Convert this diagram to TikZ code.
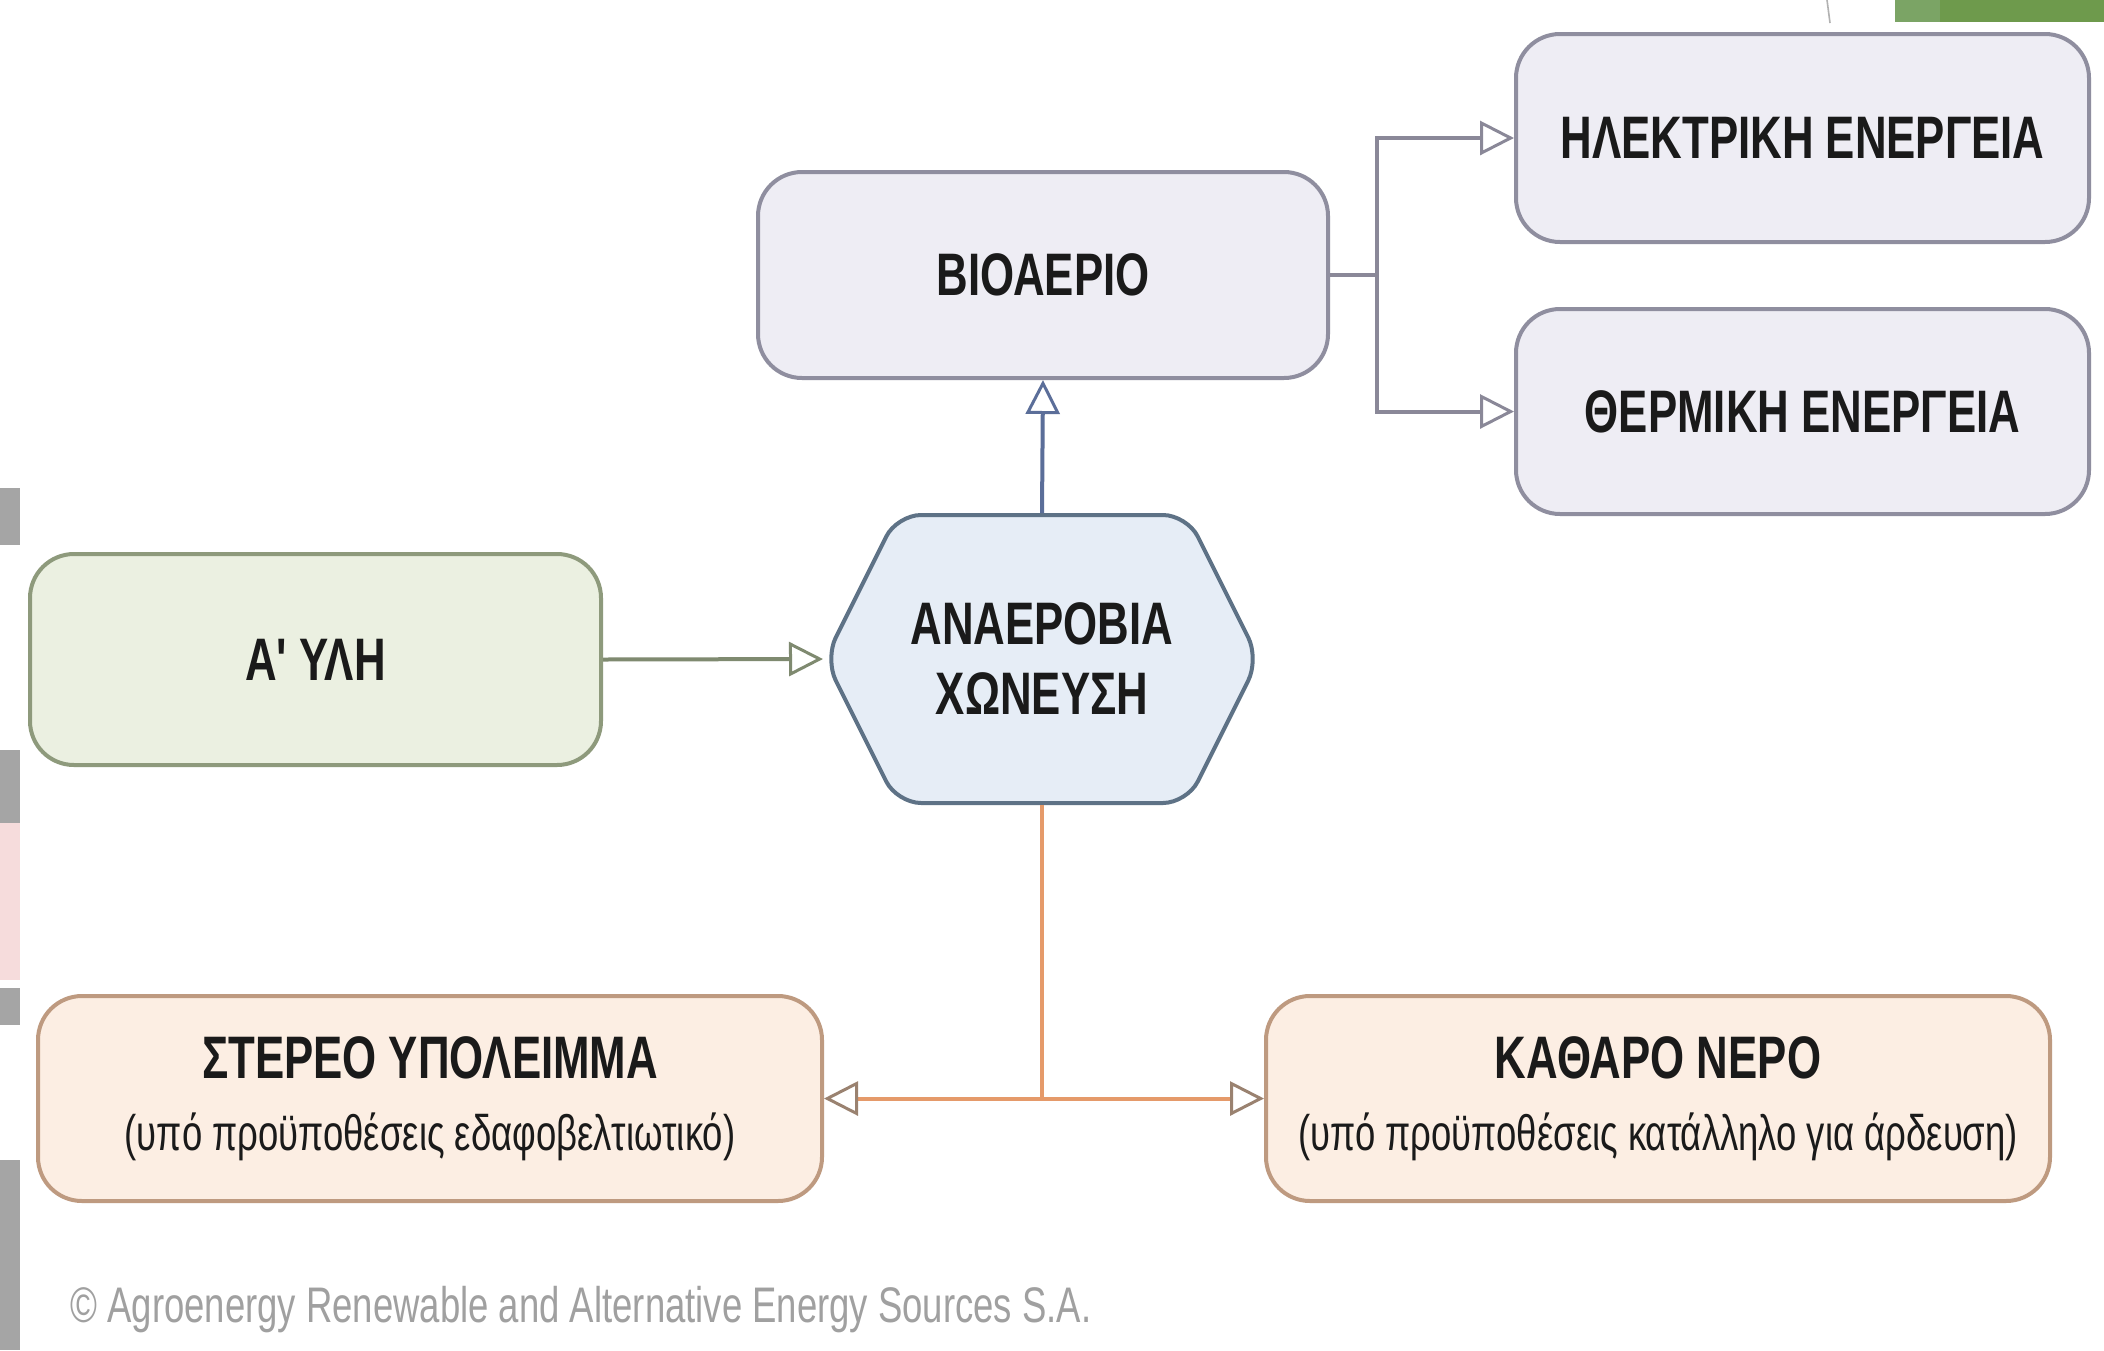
\documentclass[tikz,border=0pt]{standalone}
\usepackage{fontspec}
\setmainfont{Liberation Sans}
\newfontfamily\cond[FakeStretch=0.73]{Liberation Sans}
\usetikzlibrary{arrows.meta}
\definecolor{grayf}{HTML}{EEEDF4}
\definecolor{grayd}{HTML}{8F8E9F}
\definecolor{greenf}{HTML}{EBF0E1}
\definecolor{greend}{HTML}{8E9A7C}
\definecolor{hexf}{HTML}{E6EDF6}
\definecolor{hexd}{HTML}{5E7286}
\definecolor{orf}{HTML}{FCEEE3}
\definecolor{ord}{HTML}{BE9A80}
\definecolor{orline}{HTML}{E59A6A}
\definecolor{orhead}{HTML}{9A8270}
\definecolor{blueline}{HTML}{5B6E99}
\definecolor{greyline}{HTML}{8A8898}
\definecolor{oliveline}{HTML}{7F8A70}
\definecolor{txt}{HTML}{1A1A1A}
\definecolor{copyc}{HTML}{A0A0A0}
\definecolor{edgegray}{HTML}{A5A5A5}
\definecolor{edgepink}{HTML}{F6DCDC}
\definecolor{slidegreen}{HTML}{6E9A4C}
\definecolor{slidegreenl}{HTML}{7BA465}
\tikzset{
  box/.style={rounded corners=22pt, line width=2pt, text=txt, align=center, inner sep=0pt,
    font=\cond\bfseries\fontsize{30}{35}\selectfont},
  graybox/.style={box, draw=grayd, fill=grayf},
  greenbox/.style={box, draw=greend, fill=greenf},
  orbox/.style={box, draw=ord, fill=orf},
  conn/.style={line width=2pt},
  tip/.style={-{Triangle[length=17pt,width=17pt,fill=white,line width=1.5pt,#1]}},
}
\begin{document}
\begin{tikzpicture}[x=0.5pt,y=-0.5pt]
\useasboundingbox (0,0) rectangle (2104,1350);
\fill[white] (0,0) rectangle (2104,1350);
% slide remnants
\fill[edgegray] (0,488) rectangle (20,545);
\fill[edgegray] (0,750) rectangle (20,823);
\fill[edgepink] (0,823) rectangle (20,980);
\fill[edgegray] (0,988) rectangle (20,1025);
\fill[edgegray] (0,1160) rectangle (20,1350);
\fill[slidegreenl] (1895,0) rectangle (1940,22);
\fill[slidegreen] (1940,0) rectangle (2104,22);
\draw[gray!60, line width=0.8pt] (1827,0) -- (1830,23);

% boxes
\node[graybox, minimum width=285pt, minimum height=103pt] (bio) at (1043,275) {ΒΙΟΑΕΡΙΟ};
\node[graybox, minimum width=286.5pt, minimum height=104pt] (elec) at (1802.5,138) {ΗΛΕΚΤΡΙΚΗ ΕΝΕΡΓΕΙΑ};
\node[graybox, minimum width=286.5pt, minimum height=102.5pt] (therm) at (1802.5,411.5) {ΘΕΡΜΙΚΗ ΕΝΕΡΓΕΙΑ};
\node[greenbox, minimum width=285.5pt, minimum height=105.5pt] (yli) at (315.5,659.5) {Α' ΥΛΗ};
\draw[line width=2pt, draw=hexd, fill=hexf, rounded corners=12pt]
  (825,659) -- (897,515) -- (1187,515) -- (1259,659) -- (1187,803) -- (897,803) -- cycle;
\node[box, draw=none, minimum width=217pt, minimum height=144pt] (hex) at (1042,659) {ΑΝΑΕΡΟΒΙΑ\\ΧΩΝΕΥΣΗ};
\node[orbox, minimum width=392pt, minimum height=102.5pt] (stereo) at (430,1098.5)
  {ΣΤΕΡΕΟ ΥΠΟΛΕΙΜΜΑ\\[1pt]{\mdseries\fontsize{25}{35}\selectfont (υπό προϋποθέσεις εδαφοβελτιωτικό)}};
\node[orbox, minimum width=392pt, minimum height=102.5pt] (nero) at (1658,1098.5)
  {ΚΑΘΑΡΟ ΝΕΡΟ\\[1pt]{\mdseries\fontsize{25}{35}\selectfont (υπό προϋποθέσεις κατάλληλο για άρδευση)}};

% connectors
\draw[conn, oliveline, tip=oliveline] (yli.east) -- (hex.west);
\draw[conn, blueline, tip=blueline] (hex.north) -- (bio.south);
\coordinate (jn) at (1377,275);
\draw[conn, greyline] (bio.east) -- (jn);
\draw[conn, greyline, tip=greyline] (jn) |- (elec.west);
\draw[conn, greyline, tip=greyline] (jn) |- (therm.west);
\coordinate (split) at (hex.south |- stereo.east);
\draw[conn, orline] (hex.south) -- (split);
\draw[conn, orline, tip=orhead] (split) -- (stereo.east);
\draw[conn, orline, tip=orhead] (split) -- (nero.west);

\node[anchor=base west, text=copyc, inner sep=0pt, font=\cond\fontsize{25}{28}\selectfont] (copy) at (70,1322)
  {© Agroenergy Renewable and Alternative Energy Sources S.A.};
\end{tikzpicture}
\end{document}
